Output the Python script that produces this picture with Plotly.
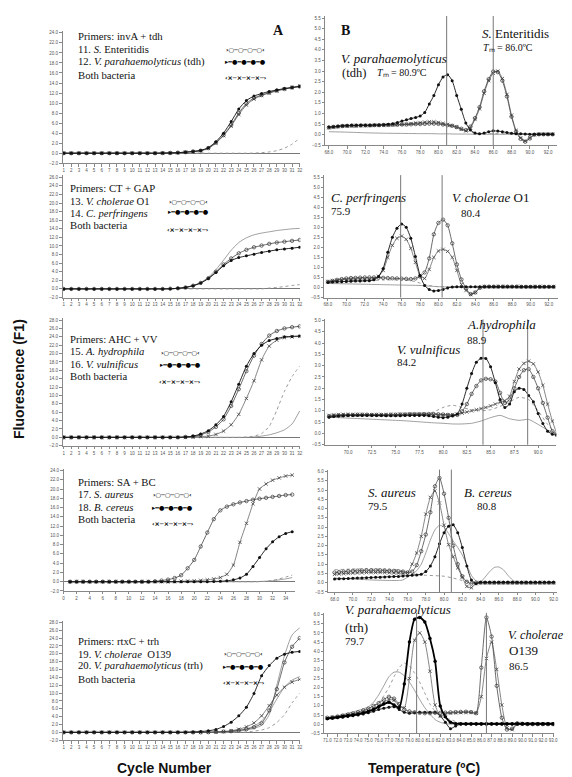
import plotly.graph_objects as go

W, H = 572, 777

# ---------------- data ----------------
cycles_32 = [1, 2, 3, 4, 5, 6, 7, 8, 9, 10, 11, 12, 13, 14, 15, 16, 17, 18, 19, 20, 21, 22, 23, 24, 25, 26, 27, 28, 29, 30, 31, 32]
cycles_35 = [1, 2, 3, 4, 5, 6, 7, 8, 9, 10, 11, 12, 13, 14, 15, 16, 17, 18, 19, 20, 21, 22, 23, 24, 25, 26, 27, 28, 29, 30, 31, 32, 33, 34, 35]

# Panel A1: invA + tdh
a1_sent = [0, 0, 0, 0, 0, 0, 0, 0, 0, 0, 0, 0, 0, 0.02, 0.05, 0.1, 0.2, 0.35, 0.5, 1.0, 2.1, 3.6, 5.6, 8.0, 9.9, 11.0, 11.6, 12.1, 12.5, 12.8, 13.1, 13.3]
a1_vp = [0, 0, 0, 0, 0, 0, 0, 0, 0, 0, 0, 0, 0, 0.02, 0.05, 0.1, 0.2, 0.35, 0.55, 1.1, 2.3, 4.0, 6.3, 8.8, 10.5, 11.4, 11.9, 12.3, 12.6, 12.9, 13.1, 13.3]
a1_both = [0, 0, 0, 0, 0, 0, 0, 0, 0, 0, 0, 0, 0, 0.02, 0.05, 0.1, 0.2, 0.3, 0.5, 0.95, 2.0, 3.5, 5.4, 7.7, 9.6, 10.8, 11.5, 12.0, 12.4, 12.8, 13.1, 13.4]
a1_dot = [0, 0, 0, 0, 0, 0, 0, 0, 0, 0, 0, 0, 0, 0, 0, 0, 0, 0, 0, 0, 0, 0, 0, 0, 0, 0.02, 0.1, 0.25, 0.5, 1.0, 1.8, 3.0]

# Panel A2: CT + GAP
a2_vc = [0, 0, 0, 0, 0, 0, 0, 0, 0, 0, 0, 0, 0, 0, 0.05, 0.15, 0.35, 0.75, 1.4, 2.5, 4.0, 5.7, 7.1, 8.3, 9.1, 9.7, 10.1, 10.5, 10.8, 11.0, 11.2, 11.4]
a2_cp = [0, 0, 0, 0, 0, 0, 0, 0, 0, 0, 0, 0, 0, 0, 0.05, 0.15, 0.35, 0.75, 1.35, 2.4, 3.8, 5.4, 6.6, 7.3, 7.7, 8.1, 8.5, 8.8, 9.1, 9.3, 9.5, 9.7]
a2_both = [0, 0, 0, 0, 0, 0, 0, 0, 0, 0, 0, 0, 0, 0, 0.05, 0.15, 0.35, 0.8, 1.5, 2.7, 4.5, 6.7, 9.0, 10.8, 11.9, 12.6, 13.0, 13.3, 13.6, 13.8, 14.0, 14.1]
a2_dot = [0, 0, 0, 0, 0, 0, 0, 0, 0, 0, 0, 0, 0, 0, 0, 0, 0, 0, 0, 0, 0, 0, 0, 0, 0, 0, 0, 0.2, 0.35, 0.55, 0.8, 1.0]

# Panel A3: AHC + VV
a3_ah = [0, 0, 0, 0, 0, 0, 0, 0, 0, 0, 0, 0, 0, 0, 0, 0, 0.1, 0.2, 0.6, 1.3, 2.5, 4.3, 7.5, 11.5, 15.8, 19.5, 22.3, 24.3, 25.4, 26.0, 26.3, 26.5]
a3_vv = [0, 0, 0, 0, 0, 0, 0, 0, 0, 0, 0, 0, 0, 0, 0, 0, 0.1, 0.3, 0.8, 1.6, 3.0, 5.0, 8.5, 12.7, 17.0, 20.0, 22.0, 23.1, 23.6, 24.0, 24.1, 24.2]
a3_both = [0, 0, 0, 0, 0, 0, 0, 0, 0, 0, 0, 0, 0, 0, 0, 0, 0, 0.1, 0.2, 0.3, 0.7, 1.5, 3.0, 5.5, 9.3, 13.5, 18.5, 21.8, 23.2, 23.8, 24.0, 24.1]
a3_dot = [0, 0, 0, 0, 0, 0, 0, 0, 0, 0, 0, 0, 0, 0, 0, 0, 0, 0, 0, 0, 0, 0, 0, 0, 0.1, 0.3, 0.9, 2.6, 6.5, 11.0, 14.5, 17.0]
a3_thin = [0, 0, 0, 0, 0, 0, 0, 0, 0, 0, 0, 0, 0, 0, 0, 0, 0, 0, 0, 0, 0, 0, 0, 0, 0, 0.1, 0.3, 0.6, 1.1, 1.8, 3.2, 6.3]

# Panel A4: SA + BC
a4_sa = [0, 0, 0, 0, 0, 0, 0, 0, 0, 0, 0, 0, 0, 0.1, 0.25, 0.45, 0.8, 1.4, 2.9, 4.7, 7.6, 10.6, 13.5, 15.4, 16.2, 16.7, 17.1, 17.4, 17.7, 17.9, 18.1, 18.3, 18.5, 18.7, 18.8]
a4_bc = [0, 0, 0, 0, 0, 0, 0, 0, 0, 0, 0, 0, 0, 0, 0, 0, 0, 0, 0, 0, 0, 0, 0.05, 0.1, 0.2, 0.4, 0.8, 1.6, 3.3, 5.2, 7.1, 8.6, 9.7, 10.4, 10.8]
a4_both = [0, 0, 0, 0, 0, 0, 0, 0, 0, 0, 0, 0, 0, 0, 0, 0, 0, 0.1, 0.15, 0.2, 0.3, 0.4, 0.6, 0.9, 1.6, 3.6, 8.5, 12.6, 16.8, 20.0, 21.1, 21.9, 22.4, 22.8, 23.0]
a4_dot = [0, 0, 0, 0, 0, 0, 0, 0, 0, 0, 0, 0, 0, 0, 0, 0, 0, 0, 0, 0, 0, 0, 0, 0, 0, 0, 0, 0, 0, 0, 0.1, 0.3, 0.6, 1.0, 1.4]
a4_thin = [0, 0, 0, 0, 0, 0, 0, 0, 0, 0, 0, 0, 0, 0, 0, 0, 0, 0, 0, 0, 0, 0, 0, 0, 0, 0, 0, 0, 0, 0.05, 0.1, 0.2, 0.4, 0.6, 0.9]

# Panel A5: rtxC + trh
a5_vc = [0, 0, 0, 0, 0, 0, 0, 0, 0, 0, 0, 0, 0, 0, 0, 0, 0, 0, 0, 0.05, 0.1, 0.2, 0.3, 0.5, 0.8, 1.3, 2.3, 5.6, 11.0, 17.8, 21.8, 24.0]
a5_vp = [0, 0, 0, 0, 0, 0, 0, 0, 0, 0, 0, 0, 0, 0, 0, 0, 0.05, 0.1, 0.2, 0.4, 0.75, 1.5, 2.6, 4.2, 6.4, 9.9, 14.4, 17.0, 18.9, 19.9, 20.4, 20.6]
a5_both = [0, 0, 0, 0, 0, 0, 0, 0, 0, 0, 0, 0, 0, 0, 0, 0, 0, 0, 0, 0, 0.1, 0.2, 0.4, 0.8, 1.4, 2.4, 4.2, 6.8, 9.5, 11.5, 12.8, 13.5]
a5_top = [0, 0, 0, 0, 0, 0, 0, 0, 0, 0, 0, 0, 0, 0, 0, 0, 0, 0, 0, 0, 0, 0.1, 0.2, 0.3, 0.6, 1.0, 1.8, 4.5, 12.0, 19.5, 24.8, 26.6]
a5_mid = [0, 0, 0, 0, 0, 0, 0, 0, 0, 0, 0, 0, 0, 0, 0, 0, 0, 0, 0, 0, 0, 0.1, 0.3, 0.5, 0.9, 1.6, 2.9, 5.2, 8.5, 11.5, 13.3, 14.2]
a5_dot = [0, 0, 0, 0, 0, 0, 0, 0, 0, 0, 0, 0, 0, 0, 0, 0, 0, 0, 0, 0, 0, 0, 0, 0.05, 0.1, 0.3, 0.6, 1.2, 2.5, 4.5, 7.5, 10.0]

# Melting-curve temperatures
t_68_925 = [68.0, 68.5, 69.0, 69.5, 70.0, 70.5, 71.0, 71.5, 72.0, 72.5, 73.0, 73.5, 74.0, 74.5, 75.0, 75.5, 76.0, 76.5, 77.0, 77.5,
            78.0, 78.5, 79.0, 79.5, 80.0, 80.5, 81.0, 81.5, 82.0, 82.5, 83.0, 83.5, 84.0, 84.5, 85.0, 85.5, 86.0, 86.5, 87.0, 87.5,
            88.0, 88.5, 89.0, 89.5, 90.0, 90.5, 91.0, 91.5, 92.0, 92.5]
t_68_92 = [68.0, 68.5, 69.0, 69.5, 70.0, 70.5, 71.0, 71.5, 72.0, 72.5, 73.0, 73.5, 74.0, 74.5, 75.0, 75.5, 76.0, 76.5, 77.0, 77.5,
           78.0, 78.5, 79.0, 79.5, 80.0, 80.5, 81.0, 81.5, 82.0, 82.5, 83.0, 83.5, 84.0, 84.5, 85.0, 85.5, 86.0, 86.5, 87.0, 87.5,
           88.0, 88.5, 89.0, 89.5, 90.0, 90.5, 91.0, 91.5, 92.0]
t_71_93 = [71.0, 71.5, 72.0, 72.5, 73.0, 73.5, 74.0, 74.5, 75.0, 75.5, 76.0, 76.5, 77.0, 77.5, 78.0, 78.5, 79.0, 79.5, 80.0, 80.5,
           81.0, 81.5, 82.0, 82.5, 83.0, 83.5, 84.0, 84.5, 85.0, 85.5, 86.0, 86.5, 87.0, 87.5, 88.0, 88.5, 89.0, 89.5, 90.0, 90.5,
           91.0, 91.5, 92.0, 92.5, 93.0]

# Panel B1
b1_se = [0.34, 0.37, 0.39, 0.41, 0.42, 0.43, 0.43, 0.44, 0.44, 0.44, 0.45, 0.45, 0.46, 0.46, 0.47, 0.47, 0.48, 0.48, 0.49, 0.5,
         0.5, 0.51, 0.52, 0.52, 0.51, 0.48, 0.45, 0.42, 0.36, 0.28, 0.22, 0.38, 0.78, 1.3, 2.05, 2.62, 2.98, 2.95, 2.55, 1.8,
         0.85, 0.15, -0.2, -0.33, -0.18, 0.0, 0.02, 0.02, 0.02, 0.02]
b1_vp = [0.36, 0.38, 0.40, 0.42, 0.43, 0.44, 0.44, 0.45, 0.45, 0.45, 0.46, 0.46, 0.47, 0.49, 0.52, 0.57, 0.64, 0.70, 0.76, 0.81,
         0.88, 1.05, 1.45, 1.85, 2.35, 2.72, 2.83, 2.55, 1.85, 1.20, 0.55, 0.22, 0.08, 0.04, 0.08, 0.14, 0.18, 0.17, 0.14, 0.10,
         0.07, 0.05, 0.04, 0.03, 0.02, 0.02, 0.02, 0.02, 0.02, 0.02]
b1_both = [0.33, 0.36, 0.38, 0.4, 0.41, 0.42, 0.42, 0.43, 0.43, 0.43, 0.44, 0.44, 0.45, 0.46, 0.47, 0.48, 0.49, 0.5, 0.52, 0.55,
           0.57, 0.59, 0.61, 0.61, 0.58, 0.53, 0.48, 0.43, 0.36, 0.26, 0.18, 0.32, 0.72, 1.22, 1.95, 2.55, 2.9, 3.0, 2.65, 1.9,
           0.92, 0.2, -0.15, -0.3, -0.15, 0.0, 0.02, 0.02, 0.02, 0.02]
t_b1c = [68, 70, 72, 74, 76, 78, 79, 80, 81, 82, 83, 84, 86, 88, 90, 92.5]
b1_dot = [0.3, 0.35, 0.38, 0.4, 0.45, 0.5, 0.53, 0.5, 0.42, 0.3, 0.18, 0.08, 0.05, 0.04, 0.03, 0.02]
b1_thin = [0.14, 0.12, 0.09, 0.07, 0.06, 0.05, 0.05, 0.04, 0.04, 0.03, 0.03, 0.02, 0.02, 0.02, 0.02, 0.02]

# Panel B2
b2_vc = [0.28, 0.33, 0.38, 0.42, 0.45, 0.47, 0.48, 0.49, 0.5, 0.5, 0.5, 0.49, 0.48, 0.47, 0.46, 0.45, 0.44, 0.43, 0.42, 0.45,
         0.55, 0.75, 1.45, 2.65, 3.22, 3.38, 3.1, 2.2, 1.15, 0.4, -0.05, -0.33, -0.25, -0.02, 0.04, 0.04, 0.04, 0.04, 0.04, 0.04,
         0.04, 0.04, 0.03, 0.03, 0.03, 0.03, 0.03, 0.03, 0.03, 0.03]
b2_cp = [0.25, 0.27, 0.28, 0.29, 0.3, 0.31, 0.32, 0.32, 0.33, 0.34, 0.38, 0.55, 0.95, 1.75, 2.5, 2.95, 3.17, 3.0, 2.45, 1.55,
         0.6, 0.1, -0.1, -0.17, -0.15, -0.1, -0.02, 0.02, 0.03, 0.03, 0.03, 0.03, 0.03, 0.03, 0.03, 0.03, 0.03, 0.03, 0.03, 0.03,
         0.03, 0.03, 0.03, 0.03, 0.03, 0.03, 0.03, 0.03, 0.03, 0.03]
b2_both = [0.3, 0.33, 0.36, 0.38, 0.4, 0.41, 0.42, 0.42, 0.42, 0.42, 0.44, 0.56, 0.85, 1.5, 2.1, 2.45, 2.56, 2.4, 1.95, 1.25,
           0.6, 0.45, 0.9, 1.5, 1.82, 1.9, 1.8, 1.5, 0.85, 0.15, -0.15, -0.35, -0.25, 0.0, 0.04, 0.04, 0.04, 0.04, 0.04, 0.04,
           0.04, 0.04, 0.04, 0.04, 0.04, 0.04, 0.04, 0.04, 0.04, 0.04]
t_b2c = [68, 70, 72, 74, 75, 76, 77, 78, 79, 80, 82, 86, 90, 92.5]
b2_dot = [0.3, 0.33, 0.35, 0.37, 0.38, 0.38, 0.34, 0.22, 0.1, 0.04, 0.02, 0.02, 0.02, 0.02]
b2_thin = [0.2, 0.18, 0.16, 0.14, 0.13, 0.12, 0.11, 0.1, 0.07, 0.04, 0.02, 0.02, 0.02, 0.02]

# Panel B3
b3_ah = [0.76, 0.78, 0.8, 0.81, 0.82, 0.82, 0.83, 0.83, 0.83, 0.82, 0.82, 0.82, 0.82, 0.83, 0.83, 0.84, 0.84, 0.85, 0.85, 0.85,
         0.86, 0.86, 0.86, 0.85, 0.84, 0.82, 0.8, 0.82, 0.98, 1.3, 1.75, 2.1, 2.35, 2.42, 2.4, 2.3, 1.8, 1.35, 1.5, 2.0,
         2.5, 2.8, 2.85, 2.5, 2.0, 1.35, 0.7, 0.1, -0.08]
b3_vv = [0.72, 0.75, 0.77, 0.78, 0.79, 0.8, 0.8, 0.8, 0.8, 0.8, 0.79, 0.79, 0.78, 0.78, 0.78, 0.78, 0.79, 0.79, 0.8, 0.8,
         0.8, 0.78, 0.75, 0.72, 0.7, 0.72, 0.78, 0.86, 1.3, 2.0, 2.65, 3.15, 3.33, 3.32, 2.95, 2.25, 1.5, 1.15, 1.3, 1.85,
         2.0, 1.95, 1.68, 1.4, 0.88, 0.44, 0.1, -0.03, -0.08]
b3_both = [0.8, 0.82, 0.83, 0.84, 0.84, 0.84, 0.84, 0.84, 0.83, 0.83, 0.83, 0.83, 0.83, 0.84, 0.84, 0.85, 0.85, 0.86, 0.86, 0.86,
           0.85, 0.84, 0.83, 0.82, 0.82, 0.82, 0.83, 0.85, 0.9, 0.95, 1.0, 1.05, 1.1, 1.15, 1.22, 1.3, 1.38, 1.45, 1.65, 2.3,
           2.85, 3.1, 3.2, 3.08, 2.72, 2.13, 1.3, 0.55, -0.05]
t_b3c = [68, 70, 72, 74, 76, 78, 79, 80, 81, 82, 83, 84, 85, 86, 87, 88, 89, 90, 91, 92]
b3_dot = [0.7, 0.75, 0.78, 0.8, 0.8, 0.85, 0.95, 1.15, 1.25, 1.15, 1.05, 1.0, 1.05, 1.2, 1.4, 1.6, 1.5, 1.0, 0.4, -0.05]
b3_thin = [0.72, 0.68, 0.64, 0.6, 0.56, 0.5, 0.47, 0.45, 0.42, 0.42, 0.45, 0.55, 0.7, 0.8, 0.65, 0.58, 0.62, 0.4, 0.15, -0.02]

# Panel B4
b4_sa = [0.55, 0.58, 0.6, 0.62, 0.64, 0.65, 0.66, 0.67, 0.67, 0.67, 0.67, 0.66, 0.65, 0.64, 0.62, 0.6, 0.55, 0.6, 0.95, 1.7,
         2.6, 3.8, 5.2, 5.65, 4.8, 3.5, 2.0, 1.0, 0.35, 0.05, -0.05, 0.0, 0.0, 0.0, 0.0, 0.0, 0.0, 0.0, 0.0, 0.0,
         0.0, 0.0, 0.0, 0.0, 0.0, 0.0, 0.0, 0.0, 0.0]
b4_bc = [0.2, 0.21, 0.22, 0.23, 0.24, 0.25, 0.26, 0.27, 0.28, 0.29, 0.3, 0.31, 0.32, 0.33, 0.34, 0.36, 0.38, 0.4, 0.42, 0.45,
         0.6, 0.9, 1.4, 2.1, 2.7, 3.05, 3.12, 2.7, 1.9, 0.9, 0.15, -0.05, 0.02, 0.02, 0.02, 0.02, 0.02, 0.02, 0.02, 0.02,
         0.02, 0.02, 0.02, 0.02, 0.02, 0.02, 0.02, 0.02, 0.02]
b4_both = [0.45, 0.47, 0.49, 0.5, 0.52, 0.53, 0.54, 0.55, 0.55, 0.55, 0.55, 0.55, 0.54, 0.53, 0.52, 0.5, 0.55, 1.0, 1.6, 2.5,
           3.7, 4.6, 4.95, 4.3, 3.1, 2.05, 1.4, 0.8, 0.3, -0.2, -0.27, -0.05, 0.0, 0.0, 0.0, 0.0, 0.0, 0.0, 0.0, 0.0,
           0.0, 0.0, 0.0, 0.0, 0.0, 0.0, 0.0, 0.0, 0.0]
t_b4c = [68, 70, 72, 74, 75, 75.5, 76, 76.5, 77, 77.5, 78, 78.5, 79, 79.5, 80, 80.5, 81, 81.5, 82, 82.5, 83, 83.5, 84, 84.5,
         85, 85.5, 86, 86.5, 87, 87.5, 88, 90, 92]
b4_thin = [0.25, 0.2, 0.15, 0.12, 0.12, 0.15, 0.3, 0.45, 0.65, 1.0, 1.6, 2.3, 2.85, 3.1, 3.0, 2.65, 2.25, 1.9, 1.5, 0.95,
           0.4, 0.1, 0.05, 0.3, 0.6, 0.82, 0.85, 0.7, 0.4, 0.15, 0.0, 0.0, 0.0]
t_b4d = [68, 70, 72, 74, 75, 76, 77, 78, 79, 80, 81, 82, 83, 84, 88, 92]
b4_dot = [0.7, 0.74, 0.75, 0.72, 0.7, 0.55, 0.45, 0.4, 0.38, 0.35, 0.25, 0.12, 0.05, 0.0, 0.0, 0.0]

# Panel B5
b5_vc = [0.35, 0.38, 0.42, 0.47, 0.52, 0.58, 0.65, 0.75, 0.85, 1.0, 1.15, 1.35, 1.5, 1.4, 1.1, 0.8, 0.7, 0.65, 0.62, 0.6,
         0.6, 0.62, 0.62, 0.63, 0.65, 0.66, 0.67, 0.68, 0.66, 0.6, 3.1, 5.85, 4.8, 2.1, 0.35, -0.3, -0.25, 0.05, 0.02, 0.0,
         0.0, 0.0, 0.0, 0.0, 0.0]
b5_vp = [0.3, 0.34, 0.38, 0.42, 0.46, 0.5, 0.55, 0.62, 0.7, 0.8, 0.95, 1.1, 1.2, 1.05, 0.9, 2.2, 4.5, 5.75, 5.85, 5.6,
         4.7, 3.45, 1.0, 0.4, 0.1, 0.03, 0.02, 0.02, 0.02, 0.02, 0.02, 0.02, 0.02, 0.02, 0.02, 0.02, 0.02, 0.02, 0.02, 0.02,
         0.02, 0.02, 0.02, 0.02, 0.02]
b5_both = [0.33, 0.36, 0.4, 0.45, 0.5, 0.55, 0.6, 0.67, 0.75, 0.87, 1.0, 1.2, 1.35, 1.3, 1.0, 0.9, 2.5, 4.6, 5.0, 4.5,
           2.9, 1.05, 0.45, 0.55, 0.6, 0.62, 0.63, 0.64, 0.64, 0.6, 1.5, 3.6, 4.5, 3.0, 1.05, -0.2, -0.3, 0.0, 0.02, 0.0,
           0.0, 0.0, 0.0, 0.0, 0.0]
b5_low = [0.3, 0.32, 0.35, 0.38, 0.42, 0.46, 0.5, 0.56, 0.62, 0.7, 0.8, 0.87, 0.92, 0.96, 0.8, 0.65, 0.6, 0.62, 0.65, 0.65,
          0.65, 0.65, 0.45, 0.1, -0.25, -0.1, 0.0, 0.0, 0.0, 0.0, 0.0, 0.0, 0.0, 0.0, 0.0, 0.0, 0.0, 0.0, 0.0, 0.0,
          0.0, 0.0, 0.0, 0.0, 0.0]
t_b5c = [71, 72, 73, 74, 75, 75.5, 76, 76.5, 77, 77.5, 78, 78.5, 79, 79.5, 80, 80.5, 81, 81.5, 82, 82.5, 83, 84, 86, 88, 90, 93]
b5_thin = [0.35, 0.45, 0.6, 0.75, 0.95, 1.2, 1.6, 2.1, 2.6, 2.85, 2.85, 2.65, 2.3, 1.85, 1.35, 0.9, 0.55, 0.25, 0.1, 0.03,
           0.0, 0.0, 0.0, 0.0, 0.0, 0.0]
b5_dot = [0.35, 0.42, 0.5, 0.65, 0.85, 1.0, 1.2, 1.55, 2.0, 2.6, 3.1, 3.35, 3.2, 2.8, 2.3, 1.7, 1.1, 0.7, 0.45, 0.35,
          0.25, 0.05, 0.0, 0.0, 0.0, 0.0]

# Melting temperatures (vertical markers)
tm_b1 = [80.9, 86.0]
tm_b2 = [75.9, 80.4]
tm_b3 = [84.2, 88.9]
tm_b4 = [79.5, 80.8]
tm_b5 = [79.7, 86.5]

# Tick values for the axes
xt_b1 = [68, 70, 72, 74, 76, 78, 80, 82, 84, 86, 88, 90, 92]
xt_b3 = [70, 72.5, 75, 77.5, 80, 82.5, 85, 87.5, 90]
xt_b5 = [71, 72, 73, 74, 75, 76, 77, 78, 79, 80, 81, 82, 83, 84, 85, 86, 87, 88, 89, 90, 91, 92, 93]
xt_a4 = [0, 2, 4, 6, 8, 10, 12, 14, 16, 18, 20, 22, 24, 26, 28, 30, 32, 34]

# ---------------- figure ----------------
def fx(p):
    return p / W

def fy(p):
    return 1 - p / H

SERIF = "Liberation Serif, Times New Roman, serif"
SANS = "Liberation Sans, Arial, sans-serif"

STY = {
    "open": dict(mode="lines+markers", line=dict(color="#444", width=0.8, shape="spline", smoothing=0.6),
                 marker=dict(symbol="circle-open", size=3.4, color="#333", line=dict(width=0.7))),
    "filled": dict(mode="lines+markers", line=dict(color="#111", width=0.9, shape="spline", smoothing=0.6),
                   marker=dict(symbol="circle", size=3.0, color="#111")),
    "bold": dict(mode="lines+markers", line=dict(color="#000", width=1.8, shape="spline", smoothing=0.6),
                 marker=dict(symbol="circle", size=3.4, color="#000")),
    "both": dict(mode="lines+markers", line=dict(color="#666", width=0.8, shape="spline", smoothing=0.6),
                 marker=dict(symbol="x-thin", size=3.4, color="#444", line=dict(width=0.8, color="#444"))),
    "thin": dict(mode="lines", line=dict(color="#888", width=0.8, shape="spline", smoothing=0.6)),
    "dot": dict(mode="lines", line=dict(color="#999", width=1.0, dash="dot", shape="spline", smoothing=0.6)),
}

fig = go.Figure()

def curve(x, y, n, kind, name):
    ax = "" if n == 1 else str(n)
    fig.add_trace(go.Scatter(x=x, y=y, xaxis="x" + ax, yaxis="y" + ax, name=name,
                             showlegend=False, hoverinfo="skip", **STY[kind]))

# Left column (amplification)
curve(cycles_32, a1_dot, 1, "dot", "NTC")
curve(cycles_32, a1_both, 1, "both", "Both bacteria")
curve(cycles_32, a1_sent, 1, "open", "S. Enteritidis")
curve(cycles_32, a1_vp, 1, "filled", "V. parahaemolyticus (tdh)")

curve(cycles_32, a2_dot, 3, "dot", "NTC")
curve(cycles_32, a2_both, 3, "thin", "Both bacteria")
curve(cycles_32, a2_vc, 3, "open", "V. cholerae O1")
curve(cycles_32, a2_cp, 3, "filled", "C. perfringens")

curve(cycles_32, a3_thin, 5, "thin", "control")
curve(cycles_32, a3_dot, 5, "dot", "NTC")
curve(cycles_32, a3_both, 5, "both", "Both bacteria")
curve(cycles_32, a3_ah, 5, "open", "A. hydrophila")
curve(cycles_32, a3_vv, 5, "filled", "V. vulnificus")

curve(cycles_35, a4_thin, 7, "thin", "control")
curve(cycles_35, a4_dot, 7, "dot", "NTC")
curve(cycles_35, a4_both, 7, "both", "Both bacteria")
curve(cycles_35, a4_sa, 7, "open", "S. aureus")
curve(cycles_35, a4_bc, 7, "filled", "B. cereus")

curve(cycles_32, a5_dot, 9, "dot", "NTC")
curve(cycles_32, a5_top, 9, "thin", "control 1")
curve(cycles_32, a5_mid, 9, "thin", "control 2")
curve(cycles_32, a5_both, 9, "both", "Both bacteria")
curve(cycles_32, a5_vc, 9, "open", "V. cholerae O139")
curve(cycles_32, a5_vp, 9, "filled", "V. parahaemolyticus (trh)")

# Right column (melting)
curve(t_b1c, b1_thin, 2, "thin", "control")
curve(t_b1c, b1_dot, 2, "dot", "NTC")
curve(t_68_925, b1_both, 2, "both", "Both bacteria")
curve(t_68_925, b1_se, 2, "open", "S. Enteritidis")
curve(t_68_925, b1_vp, 2, "filled", "V. parahaemolyticus")

curve(t_b2c, b2_thin, 4, "thin", "control")
curve(t_b2c, b2_dot, 4, "dot", "NTC")
curve(t_68_925, b2_both, 4, "both", "Both bacteria")
curve(t_68_925, b2_vc, 4, "open", "V. cholerae O1")
curve(t_68_925, b2_cp, 4, "filled", "C. perfringens")

curve(t_b3c, b3_thin, 6, "thin", "control")
curve(t_b3c, b3_dot, 6, "dot", "NTC")
curve(t_68_92, b3_both, 6, "both", "Both bacteria")
curve(t_68_92, b3_ah, 6, "open", "A. hydrophila")
curve(t_68_92, b3_vv, 6, "filled", "V. vulnificus")

curve(t_b4c, b4_thin, 8, "thin", "control")
curve(t_b4d, b4_dot, 8, "dot", "NTC")
curve(t_68_92, b4_both, 8, "both", "Both bacteria")
curve(t_68_92, b4_sa, 8, "open", "S. aureus")
curve(t_68_92, b4_bc, 8, "filled", "B. cereus")

curve(t_b5c, b5_thin, 10, "thin", "control")
curve(t_b5c, b5_dot, 10, "dot", "NTC")
curve(t_71_93, b5_low, 10, "filled", "sample")
curve(t_71_93, b5_both, 10, "both", "Both bacteria")
curve(t_71_93, b5_vc, 10, "open", "V. cholerae O139")
curve(t_71_93, b5_vp, 10, "bold", "V. parahaemolyticus (trh)")

# Axes
tickfont = dict(family=SANS, size=4.5, color="#555")
common = dict(showgrid=False, showline=True, linecolor="#888", linewidth=1, ticks="outside",
              ticklen=2.5, tickcolor="#888", tickwidth=0.8, tickfont=tickfont, zeroline=False,
              fixedrange=True, tickangle=0)

left = [
    (1, (54, 294), (22, 155), [0.85, 32.1], [-2, 24.4], None),
    (3, (54, 294), (167, 290), [0.85, 32.1], [-2, 26.5], None),
    (5, (54, 294), (311, 439), [0.85, 32.1], [-2, 28.4], None),
    (7, (55, 289), (462, 585), [0, 35.5], [-2, 24.4], xt_a4),
    (9, (54, 294), (615, 735), [0.85, 32.1], [-2, 28.4], None),
]
right = [
    (2, (319, 553), (7, 137), [67.6, 93.0], [-0.5, 5.6], xt_b1),
    (4, (318, 554), (167, 290), [67.6, 93.0], [-0.5, 5.6], xt_b1),
    (6, (319, 552), (312, 438), [67.6, 91.9], [-0.5, 5.05], xt_b3),
    (8, (322, 553), (463, 586), [67.3, 92.4], [-0.5, 6.1], xt_b1),
    (10, (318, 550), (607, 728), [70.7, 93.1], [-0.5, 6.1], xt_b5),
]

lay = {}
for n, dx, dy, xr, yr, xt in left:
    s = "" if n == 1 else str(n)
    xa = dict(common, domain=[fx(dx[0]), fx(dx[1])], range=xr, anchor="y" + s)
    if xt is None:
        xa.update(tick0=1, dtick=1)
    else:
        xa.update(tickvals=xt)
    ya = dict(common, domain=[fy(dy[1]), fy(dy[0])], range=yr, anchor="x" + s,
              tick0=-2, dtick=2, tickformat=".1f", zeroline=True, zerolinecolor="#777", zerolinewidth=0.8)
    lay["xaxis" + s] = xa
    lay["yaxis" + s] = ya

for n, dx, dy, xr, yr, xt in right:
    s = str(n)
    lay["xaxis" + s] = dict(common, domain=[fx(dx[0]), fx(dx[1])], range=xr, anchor="y" + s,
                            tickvals=xt, tickformat=".1f")
    lay["yaxis" + s] = dict(common, domain=[fy(dy[1]), fy(dy[0])], range=yr, anchor="x" + s,
                            tick0=-0.5, dtick=0.5, tickformat=".1f")

# Tm vertical lines
shapes = []
for n, tms in [(2, tm_b1), (4, tm_b2), (6, tm_b3), (8, tm_b4), (10, tm_b5)]:
    for t in tms:
        shapes.append(dict(type="line", xref="x%d" % n, yref="y%d domain" % n, x0=t, x1=t, y0=0, y1=1,
                           line=dict(color="#777", width=1)))

# Annotations
ann = []

def text(t, x, y, size, family=SERIF, anchor="left", bold=False, angle=0, color="#111"):
    ann.append(dict(text=("<b>%s</b>" % t) if bold else t, x=fx(x), y=fy(y), xref="paper", yref="paper",
                    xanchor=anchor, yanchor="middle", showarrow=False, textangle=angle,
                    font=dict(family=family, size=size, color=color)))

LS = 10.7
left_text = [
    (68, [27, 40, 53, 66], ["Primers: invA + tdh", "11. <i>S.</i> Enteritidis",
                            "12. <i>V. parahaemolyticus</i> (tdh)", "Both bacteria"]),
    (60, [180, 193, 205, 217], ["Primers: CT + GAP", "13. <i>V. cholerae</i> O1",
                                "14. <i>C. perfringens</i>", "Both bacteria"]),
    (60, [332, 344, 357, 369], ["Primers: AHC + VV", "15. <i>A. hydrophila</i>",
                                "16. <i>V. vulnificus</i>", "Both bacteria"]),
    (68, [475, 488, 501, 513], ["Primers: SA + BC", "17. <i>S. aureus</i>",
                                "18. <i>B. cereus</i>", "Both bacteria"]),
    (68, [635, 648, 660, 673], ["Primers: rtxC + trh", "19. <i>V. cholerae</i>  O139",
                                "20. <i>V. parahaemolyticus</i> (trh)", "Both bacteria"]),
]
for x0, ys, lines in left_text:
    for yy, t in zip(ys, lines):
        text(t, x0, yy, LS)

# Key glyphs next to the legend text (text symbols, not data marks)
key_glyphs = ["›○─○─○─○‹", "▸━●━●━●━●", "‹×─×─×─×─›"]
key_center = [
    (239, [41, 53, 69]),
    (181, [193, 204, 222]),
    (173, [345, 357, 374]),
    (165, [488, 501, 517]),
    (237, [648, 661, 677]),
]
for xk, ys in key_center:
    for yk, g in zip(ys, key_glyphs):
        text("<b>%s</b>" % g, xk, yk, 6.3, family="DejaVu Sans", color="#000", anchor="center")

text("A", 272, 22, 14, bold=True, anchor="center")
text("B", 333, 22, 14, bold=True)

NS = 13.0
text("<i>V. parahaemolyticus</i>", 333, 50, NS)
text("(tdh)", 334, 64, 12.5)
text("<i>T</i>ₘ = 80.9ºC", 369, 64, 10)
text("<i>S.</i> Enteritidis", 475, 25, NS)
text("<i>T</i>ₘ = 86.0ºC", 476, 39, 10)

text("<i>C. perfringens</i>", 323, 189, NS)
text("75.9", 323, 203, 11)
text("<i>V. cholerae</i> O1", 445, 189, NS)
text("80.4", 454, 205, 11)

text("<i>A.hydrophila</i>", 460, 317, NS)
text("88.9", 460, 333, 11)
text("<i>V. vulnificus</i>", 389, 342, NS)
text("84.2", 389, 355, 11)

text("<i>S. aureus</i>", 360, 486, NS)
text("79.5", 360, 500, 11)
text("<i>B. cereus</i>", 457, 486, NS)
text("80.8", 470, 500, 11)

text("<i>V. parahaemolyticus</i>", 337, 604, NS)
text("(trh)", 337, 622, NS)
text("79.7", 337, 635, 11)
text("<i>V. cholerae</i>", 501, 629, 12.3)
text("O139", 502, 645, NS)
text("86.5", 502, 660, 11)

text("Fluorescence (F1)", 10, 372, 14, family=SANS, bold=True, anchor="center", angle=-90)
text("Cycle Number", 157, 763, 14, family=SANS, bold=True, anchor="center")
text("Temperature (ºC)", 419, 763, 14, family=SANS, bold=True, anchor="center")

fig.update_layout(width=W, height=H, margin=dict(l=0, r=0, t=0, b=0),
                  paper_bgcolor="white", plot_bgcolor="white", showlegend=False,
                  shapes=shapes, annotations=ann, **lay)

fig.write_html("out.html")
